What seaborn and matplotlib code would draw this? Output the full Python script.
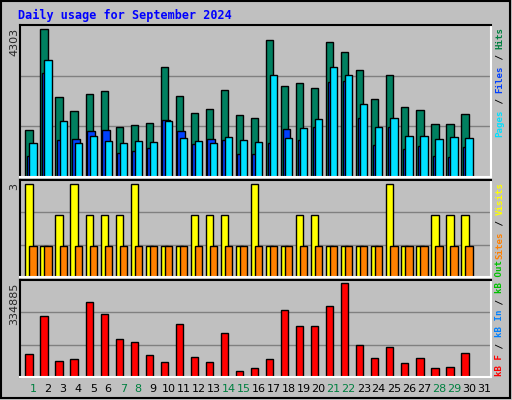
import numpy as np
import pandas as pd
import matplotlib
matplotlib.use('Agg')
import matplotlib.pyplot as plt
from matplotlib.patches import Rectangle
import seaborn as sns

days = list(range(1, 32))
weekend = [1, 7, 8, 14, 15, 21, 22, 28, 29]
hits = [1343, 4180, 2251, 1882, 2336, 2421, 1428, 1485, 1541, 3102, 2279, 1825, 1939, 2449, 1768,
        1683, 3868, 2563, 2648, 2506, 3811, 3527, 3017, 2222, 2875, 1995, 1910, 1513, 1513, 1797, 0]
files = [586, 2932, 1059, 1088, 1315, 1343, 690, 747, 832, 1627, 1315, 946, 1088, 1059, 662,
         662, 974, 1371, 1059, 1428, 2676, 2705, 1683, 917, 1428, 804, 889, 605, 577, 861, 0]
pages = [974, 3300, 1598, 974, 1173, 1031, 974, 1031, 1002, 1598, 1116, 1031, 974, 1144, 1059,
         1002, 2875, 1116, 1400, 1655, 3102, 2875, 2080, 1428, 1683, 1173, 1173, 1088, 1144, 1116, 0]
visits = [3, 1, 2, 3, 2, 2, 2, 3, 1, 1, 1, 2, 2, 2, 1, 3, 1, 1, 2, 2, 1, 1, 1, 1, 3, 1, 1, 2, 2, 2, 0]
sites = [1] * 30 + [0]
kbytes = [81900, 217500, 56200, 63500, 268800, 224800, 136900, 125900, 78200, 52500, 188200,
          70900, 52500, 158900, 23200, 30500, 63500, 239500, 180900, 180900, 254200, 334885,
          114900, 67200, 107500, 48900, 67200, 30500, 34200, 85500, 0]

BG = '#C0C0C0'
sns.set_style('white')
plt.rcParams['font.family'] = ['DejaVu Sans']

fig = plt.figure(figsize=(5.12, 4.0), dpi=100, facecolor=BG)
fig.patches.append(Rectangle((0.002, 0.004), 0.994, 0.994, transform=fig.transFigure,
                             fill=False, edgecolor='black', lw=1.5))
fig.text(18 / 512, 1 - 15 / 400, 'Daily usage for September 2024', color='#0000FF',
         family='DejaVu Sans Mono', weight='bold', fontsize=8.5, va='center')

L, W = 20 / 512, 471 / 512
ax1 = fig.add_axes([L, 1 - 177 / 400, W, 152 / 400])
ax2 = fig.add_axes([L, 1 - 277 / 400, W, 97 / 400])
ax3 = fig.add_axes([L, 1 - 377 / 400, W, 97 / 400])

d = np.array(days, dtype=float)


def bars(ax, shift, vals, color):
    df = pd.DataFrame({'x': d + shift, 'y': vals})
    sns.barplot(data=df, x='x', y='y', native_scale=True, width=0.49, color=color,
                saturation=1, edgecolor='black', linewidth=1, ax=ax)


bars(ax1, -0.265, hits, '#008060')
bars(ax1, -0.155, files, '#0040FF')
bars(ax1, 0.005, pages, '#00E0FF')
bars(ax2, -0.265, visits, '#FFFF00')
bars(ax2, 0.005, sites, '#FF8000')
bars(ax3, -0.265, kbytes, '#FF0000')

for ax, top in [(ax1, 4303), (ax2, 3.13), (ax3, 347100)]:
    ax.set_facecolor(BG)
    ax.set_xlim(0.13, 31.47)
    ax.set_ylim(0, top)
    for y in (top / 3, top * 2 / 3):
        ax.axhline(y, color='#808080', lw=1, zorder=0)
    ax.set_xticks([])
    ax.set_yticks([])
    ax.set_xlabel('')
    ax.set_ylabel('')
    for s in ('top', 'left'):
        ax.spines[s].set_color('black')
    for s in ('bottom', 'right'):
        ax.spines[s].set_color('white')
    for s in ax.spines.values():
        s.set_linewidth(1.5)

fig.text(14 / 512, 1 - 28 / 400, '4303', rotation=90, ha='center', va='top', fontsize=8)
fig.text(14 / 512, 1 - 183 / 400, '3', rotation=90, ha='center', va='top', fontsize=8)
fig.text(14 / 512, 1 - 283 / 400, '334885', rotation=90, ha='center', va='top', fontsize=8)

for day in days:
    xf = L + (day - 0.13) / (31.47 - 0.13) * W
    fig.text(xf, 1 - 389 / 400, str(day), ha='center', va='center', fontsize=8,
             color='#008040' if day in weekend else 'black')

SIDE_FS = 6.6
STEP = 0.602 * SIDE_FS * 100 / 72


def side_label(y_bottom, parts):
    y = y_bottom
    for txt, col in parts:
        fig.text(500 / 512, 1 - y / 400, txt, rotation=90, ha='center', va='bottom',
                 color=col, family='DejaVu Sans Mono', weight='bold', fontsize=SIDE_FS)
        y -= STEP * len(txt)


side_label(137, [('Pages', '#00E0FF'), (' / ', 'black'), ('Files', '#0040FF'),
                 (' / ', 'black'), ('Hits', '#008040')])
side_label(259, [('Sites', '#FF8000'), (' / ', 'black'), ('Visits', '#FFFF00')])
side_label(376, [('kB F', '#FF0000'), (' / ', 'black'), ('kB In', '#0080FF'),
                 (' / ', 'black'), ('kB Out', '#00C000')])

fig.savefig('out.png', dpi=100, facecolor=BG)
